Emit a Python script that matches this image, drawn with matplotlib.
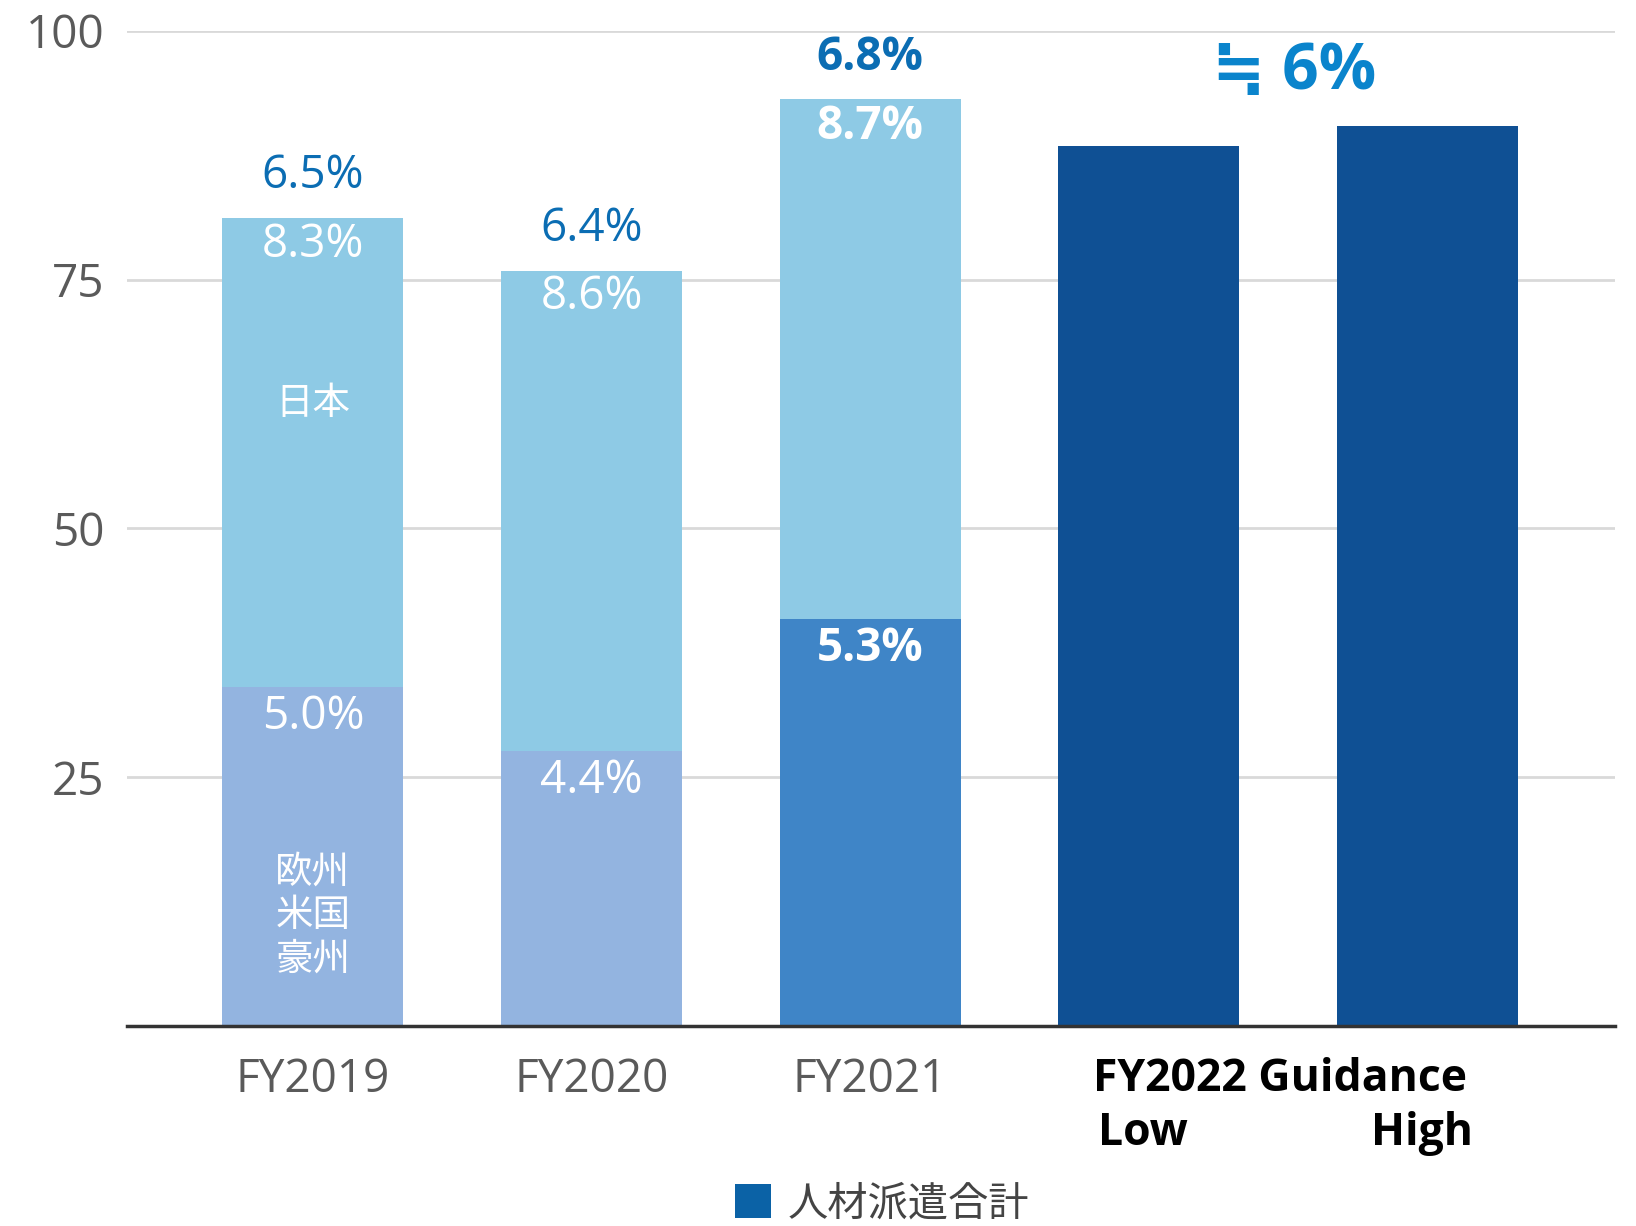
import matplotlib
matplotlib.use("Agg")
import matplotlib.pyplot as plt
from matplotlib.patches import Patch
import matplotlib.transforms as mtransforms

LATIN = ['Open Sans', 'Noto Sans CJK JP', 'DejaVu Sans']
CJK = ['Noto Sans CJK JP', 'DejaVu Sans']
plt.rcParams['font.family'] = LATIN

# ---- data ----
categories = ["FY2019", "FY2020", "FY2021", "Low", "High"]
bottom_vals = [34.1, 27.6, 40.9, 88.4, 90.4]      # 欧州/米国/豪州 (or total for guidance)
top_vals = [47.1, 48.3, 52.2, 0, 0]              # 日本
total_growth = ["6.5%", "6.4%", "6.8%"]
japan_growth = ["8.3%", "8.6%", "8.7%"]
overseas_growth = ["5.0%", "4.4%", "5.3%"]
guidance_label = "≒ 6%"
yticks = [25, 50, 75, 100]
legend_label = "人材派遣合計"

bottom_colors = ["#93B4E0", "#93B4E0", "#3F85C7", "#0F5094", "#0F5094"]
top_color = "#8ECAE5"
label_blue = "#0B6DB3"

fig = plt.figure(figsize=(16.36, 12.26), dpi=100)
ax = fig.add_axes([0.0776, 0.163, 0.9094, 0.812])

x = list(range(len(categories)))
width = 0.65
ax.bar(x, bottom_vals, width=width, color=bottom_colors, zorder=2)
ax.bar(x[:3], top_vals[:3], width=width, bottom=bottom_vals[:3], color=top_color, zorder=2)

ax.set_xlim(-0.667, 4.672)
ax.set_ylim(0, 100)
ax.set_yticks(yticks)
ax.set_yticklabels([str(v) for v in yticks], fontsize=33, color="#5a5a5a")
ax.tick_params(axis='y', length=0, pad=16)
ax.grid(axis='y', color="#d9d9d9", linewidth=2, zorder=0)
for s in ["top", "right", "left"]:
    ax.spines[s].set_visible(False)
ax.spines["bottom"].set_color("#333333")
ax.spines["bottom"].set_linewidth(2.5)
ax.spines["bottom"].set_zorder(3)

ax.set_xticks(x[:3])
ax.set_xticklabels(categories[:3], fontsize=33, color="#5a5a5a")
ax.tick_params(axis='x', length=0, pad=22)

trans = mtransforms.blended_transform_factory(ax.transData, ax.transAxes)
ax.text(3.47, -0.054, "FY2022 Guidance", transform=trans, ha='center', va='center',
        fontsize=32, fontweight='bold', color='black')
ax.text(2.98, -0.108, categories[3], transform=trans, ha='center', va='center',
        fontsize=32, fontweight='bold', color='black')
ax.text(3.98, -0.108, categories[4], transform=trans, ha='center', va='center',
        fontsize=32, fontweight='bold', color='black')

# labels
for i in range(3):
    tot = bottom_vals[i] + top_vals[i]
    bold = 'bold' if i == 2 else 'normal'
    ax.text(i, tot + 4.2, total_growth[i], ha='center', va='center', fontsize=33,
            color=label_blue, fontweight=bold)
    ax.text(i, tot - 2.7, japan_growth[i], ha='center', va='center', fontsize=33,
            color='white', fontweight=bold)
    ax.text(i, bottom_vals[i] - 3.0, overseas_growth[i], ha='center', va='center', fontsize=33,
            color='white', fontweight=bold)

ax.text(0, 62.5, "日本", ha='center', va='center', fontsize=27, color='white', family=CJK)
ax.text(0, 11.1, "欧州\n米国\n豪州", ha='center', va='center', fontsize=27, color='white',
        linespacing=1.15, family=CJK)

ax.text(3.52, 95.8, guidance_label, ha='center', va='center', fontsize=46,
        fontweight='bold', color="#0A84CC", clip_on=False)

handle = Patch(facecolor="#0B62A6", edgecolor="none")
fig.legend([handle], [legend_label], loc='lower center', bbox_to_anchor=(0.539, -0.028),
           frameon=False, handlelength=0.9, handleheight=0.9,
           handletextpad=0.4, labelcolor="#444444", prop={'family': CJK, 'size': 29})

fig.savefig("out.png", dpi=100)
